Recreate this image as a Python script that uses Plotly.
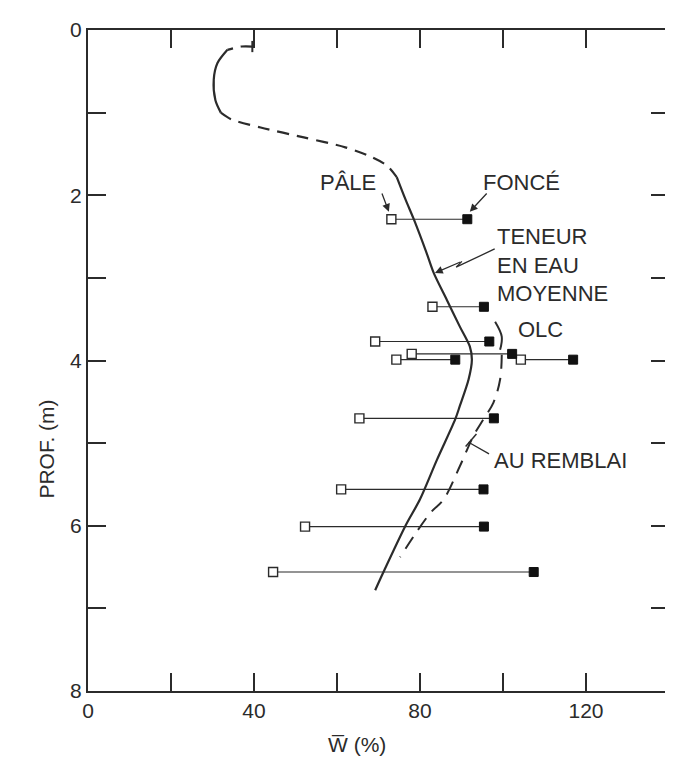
import plotly.graph_objects as go

# paired samples at each depth: pale (open) and dark (filled) soil
depth_pairs = [2.29, 3.35, 3.77, 3.92, 3.99, 3.99, 4.70, 5.56, 6.01, 6.56]
w_pale = [73.1, 83.0, 69.2, 78.0, 74.3, 104.3, 65.4, 61.0, 52.3, 44.6]
w_fonce = [91.4, 95.4, 96.7, 102.2, 88.5, 116.9, 97.8, 95.3, 95.4, 107.4]

# mean water content profile (teneur en eau moyenne)
mean_w = [39.6, 37.0, 33.6, 31.2, 30.3, 30.7, 32.0, 34.5, 41.6, 52.0, 62.0, 68.0, 72.0, 74.4,
          76.5, 78.5, 81.6, 83.3, 86.5, 89.6, 92.0, 92.5, 91.7, 89.6, 88.5, 84.1, 80.0, 76.5, 71.2, 69.2]
mean_depth = [0.20, 0.20, 0.24, 0.40, 0.60, 0.85, 1.00, 1.08, 1.18, 1.30, 1.42, 1.53, 1.64, 1.78,
              2.05, 2.29, 2.70, 2.94, 3.27, 3.59, 3.83, 3.99, 4.23, 4.55, 4.71, 5.20, 5.68, 6.00, 6.56, 6.78]
# index ranges of the pieces: dashed, solid, dashed, solid
mean_pieces = [(0, 3, "dash"), (2, 7, "solid"), (6, 14, "dash"), (13, 30, "solid")]

# OLC au remblai
olc_w = [98.1, 99.7, 99.3, 99.7, 99.3, 97.7, 95.3, 92.9, 89.6, 85.7, 82.4, 75.2]
olc_depth = [3.53, 3.71, 3.87, 3.93, 4.23, 4.51, 4.71, 4.91, 5.28, 5.68, 5.85, 6.38]

ink = "#2b2b2b"
font = "Liberation Sans"

fig = go.Figure()

# horizontal lines joining pale and dark samples
lx, ly = [], []
for d, a, b in zip(depth_pairs, w_pale, w_fonce):
    lx += [a, b, None]
    ly += [d, d, None]
fig.add_trace(go.Scatter(x=lx, y=ly, mode="lines", line=dict(color=ink, width=1.1), hoverinfo="skip"))

# mean curve pieces
for i0, i1, dash in mean_pieces:
    fig.add_trace(go.Scatter(
        x=mean_w[i0:i1], y=mean_depth[i0:i1], mode="lines",
        line=dict(color=ink, width=2.2, dash="solid" if dash == "solid" else "12px,8px", shape="spline", smoothing=0.8),
        hoverinfo="skip"))
fig.add_trace(go.Scatter(x=mean_w[:1], y=mean_depth[:1], mode="markers",
                         marker=dict(symbol="line-ns-open", size=8, color=ink, line=dict(color=ink, width=2)),
                         hoverinfo="skip"))

# OLC curve: first bracket solid, rest dashed
fig.add_trace(go.Scatter(x=olc_w[:3], y=olc_depth[:3], mode="lines",
                         line=dict(color=ink, width=2, shape="spline"), hoverinfo="skip"))
fig.add_trace(go.Scatter(x=olc_w[3:], y=olc_depth[3:], mode="lines",
                         line=dict(color=ink, width=2, dash="14px,9px", shape="spline"), hoverinfo="skip"))

# markers
fig.add_trace(go.Scatter(x=w_pale, y=depth_pairs, mode="markers",
                         marker=dict(symbol="square", size=9, color="white", line=dict(color=ink, width=1.4)),
                         hoverinfo="skip"))
fig.add_trace(go.Scatter(x=w_fonce, y=depth_pairs, mode="markers",
                         marker=dict(symbol="square", size=9, color="#111", line=dict(color="#111", width=1)),
                         hoverinfo="skip"))

tf = dict(family=font, size=22, color=ink)
ann = [
    dict(x=62.7, y=1.84, text="PÂLE", showarrow=False, font=tf),
    dict(x=104.4, y=1.84, text="FONCÉ", showarrow=False, font=tf),
    dict(x=98.0, y=2.84, text="TENEUR<br>EN EAU<br>MOYENNE", showarrow=False, font=tf,
         xanchor="left", align="left"),
    dict(x=109.1, y=3.63, text="OLC", showarrow=False, font=tf),
    dict(x=97.4, y=5.21, text="AU REMBLAI", showarrow=False, font=tf, xanchor="left"),
    # arrows
    dict(x=72.5, y=2.20, ax=70.7, ay=1.96, axref="x", ayref="y", text="", showarrow=True,
         arrowhead=2, arrowsize=1.2, arrowwidth=1.3, arrowcolor=ink),
    dict(x=92.0, y=2.20, ax=96.4, ay=1.96, axref="x", ayref="y", text="", showarrow=True,
         arrowhead=2, arrowsize=1.2, arrowwidth=1.3, arrowcolor=ink),
    dict(x=83.6, y=2.94, ax=90.1, ay=2.80, axref="x", ayref="y", text="", showarrow=True,
         arrowhead=2, arrowsize=1.2, arrowwidth=1.3, arrowcolor=ink),
    dict(x=91.7, y=4.99, ax=97.0, ay=5.14, axref="x", ayref="y", text="", showarrow=True,
         arrowhead=0, arrowwidth=1.3, arrowcolor=ink),
    # axis titles
    dict(x=0.463, y=0, xref="paper", yref="paper", yshift=-67, text="W\u0305 (%)", showarrow=False,
         font=dict(family=font, size=21, color=ink)),
    dict(x=0, y=0.366, xref="paper", yref="paper", xshift=-55, text="PROF. (m)", showarrow=False,
         textangle=-90, font=dict(family=font, size=21, color=ink)),
]

shapes = [
    # zigzag leader for the mean curve
    dict(type="path", path="M 98.0,2.65 L 88.7,2.87 L 90.1,2.80", xref="x", yref="y",
         line=dict(color=ink, width=1.3)),
    # little bar at the end of the AU REMBLAI leader
    dict(type="line", x0=91.0, y0=5.04, x1=93.6, y1=4.89, xref="x", yref="y",
         line=dict(color=ink, width=1.5)),
]

axis_common = dict(showgrid=False, zeroline=False, showline=True, linecolor=ink, linewidth=2,
                   mirror="allticks", ticks="inside", ticklen=18, tickwidth=2, tickcolor=ink,
                   tickfont=dict(family=font, size=21, color=ink))

fig.update_layout(
    width=673, height=770,
    margin=dict(l=80, r=10, t=19, b=87),
    paper_bgcolor="white", plot_bgcolor="white",
    showlegend=False,
    xaxis=dict(range=[0, 140], tickvals=[0, 20, 40, 60, 80, 100, 120, 140],
               ticktext=["0", "", "40", "", "80", "", "120", ""], **axis_common),
    yaxis=dict(range=[8, 0], tickvals=[0, 1, 2, 3, 4, 5, 6, 7, 8],
               ticktext=["0", "", "2", "", "4", "", "6", "", "8"], **axis_common),
    annotations=ann,
    shapes=shapes,
)

fig.write_html("out.html")
